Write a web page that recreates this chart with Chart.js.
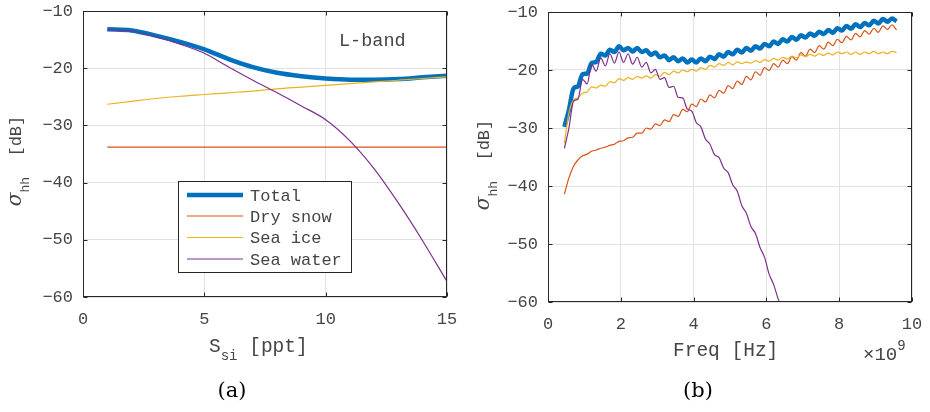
<!DOCTYPE html>
<html>
<head>
<meta charset="utf-8">
<script src="https://cdn.jsdelivr.net/npm/chart.js@4.4.0/dist/chart.umd.min.js"></script>
<style>
  body { margin: 0; background: #fff; }
  #wrap { position: relative; width: 930px; height: 412px; overflow: hidden; }
  #wrap canvas { position: absolute; top: 0; }
  .cap { position: absolute; top: 380px; width: 60px; text-align: center;
         font-family: "DejaVu Serif", serif; font-size: 21px; line-height: 21px; color: #000; }
</style>
</head>
<body>
<div id="wrap">
  <canvas id="grafA" width="465" height="412" style="left:0"></canvas>
  <canvas id="grafB" width="465" height="412" style="left:465px"></canvas>
  <div class="cap" style="left:202px">(a)</div>
  <div class="cap" style="left:668px">(b)</div>
</div>
<script>
// (a) salinidad del hielo marino, banda L
const salinity = [1, 2, 3, 4, 5, 6, 7, 8, 9, 10, 11, 12, 13, 14, 15];
const salTotal = [-13.2, -13.4, -14.3, -15.4, -16.7, -18.4, -19.8, -20.8, -21.4, -21.8, -22.0, -22.0, -21.9, -21.6, -21.3];
const salDrySnow = [-33.8, -33.8, -33.8, -33.8, -33.8, -33.8, -33.8, -33.8, -33.8, -33.8, -33.8, -33.8, -33.8, -33.8, -33.8];
const salSeaIce = [-26.3, -25.8, -25.3, -24.9, -24.6, -24.3, -24.0, -23.6, -23.3, -23.0, -22.7, -22.4, -22.1, -21.8, -21.5];
const salSeaWater = [-13.3, -13.5, -14.5, -15.8, -17.4, -19.8, -22.1, -24.3, -26.6, -29.0, -32.7, -37.6, -43.6, -50.2, -57.3];

// (b) frecuencia en unidades de 1e9 Hz
const freqGHz = [0.45, 0.575, 0.7, 0.825, 0.95, 1.075, 1.2, 1.325, 1.45, 1.575,
  1.7, 1.825, 1.95, 2.075, 2.2, 2.325, 2.45, 2.575, 2.7, 2.825,
  2.95, 3.075, 3.2, 3.325, 3.45, 3.575, 3.7, 3.825, 3.95, 4.075,
  4.2, 4.325, 4.45, 4.575, 4.7, 4.825, 4.95, 5.075, 5.2, 5.325,
  5.45, 5.575, 5.7, 5.825, 5.95, 6.075, 6.2, 6.325, 6.45, 6.575,
  6.7, 6.825, 6.95, 7.075, 7.2, 7.325, 7.45, 7.575, 7.7, 7.825,
  7.95, 8.075, 8.2, 8.325, 8.45, 8.575, 8.7, 8.825, 8.95, 9.075,
  9.2, 9.325, 9.45, 9.575];
const fTotal = [-29.8, -26.9, -23.2, -22.8, -20.7, -20.6, -18.8, -18.6, -17.2, -17.5,
  -16.5, -16.9, -15.9, -16.6, -16.2, -16.8, -16.2, -16.9, -16.6, -17.4,
  -17.0, -17.8, -17.5, -18.3, -17.8, -18.5, -18.0, -18.7, -18.2, -18.7,
  -18.0, -18.5, -17.7, -18.1, -17.3, -17.7, -16.9, -17.3, -16.5, -17.0,
  -16.2, -16.7, -15.9, -16.3, -15.5, -15.9, -15.1, -15.5, -14.7, -15.1,
  -14.3, -14.8, -14.0, -14.4, -13.7, -14.1, -13.4, -13.8, -13.1, -13.6,
  -12.8, -13.2, -12.4, -12.9, -12.1, -12.6, -11.9, -12.3, -11.5, -12.0,
  -11.2, -11.7, -11.1, -11.6];
const fDrySnow = [-41.4, -38.6, -36.6, -35.5, -34.8, -34.5, -34.0, -33.8, -33.5, -33.3,
  -33.0, -32.8, -32.3, -32.2, -31.7, -31.6, -30.9, -30.9, -30.0, -30.2,
  -29.3, -29.6, -28.6, -28.9, -27.7, -28.0, -26.8, -27.2, -25.9, -26.3,
  -25.0, -25.5, -24.3, -24.8, -23.5, -24.0, -22.7, -23.2, -21.9, -22.5,
  -21.1, -21.7, -20.3, -20.9, -19.6, -20.1, -18.9, -19.5, -18.3, -18.9,
  -17.7, -18.3, -17.0, -17.6, -16.4, -17.0, -15.8, -16.4, -15.2, -15.8,
  -14.7, -15.3, -14.2, -14.8, -13.7, -14.3, -13.2, -13.8, -12.8, -13.5,
  -12.4, -13.0, -12.2, -13.1];
const fSeaIce = [-32.6, -27.4, -25.2, -24.8, -24.0, -23.8, -22.9, -23.1, -22.6, -22.8,
  -22.0, -22.2, -21.5, -21.8, -21.3, -21.6, -21.1, -21.4, -21.0, -21.4,
  -20.8, -21.1, -20.4, -20.8, -20.2, -20.5, -20.0, -20.3, -19.9, -20.2,
  -19.6, -19.9, -19.2, -19.5, -18.9, -19.2, -18.7, -19.1, -18.6, -18.9,
  -18.6, -18.8, -18.4, -18.7, -18.2, -18.5, -18.0, -18.3, -17.8, -18.1,
  -17.6, -17.9, -17.4, -17.7, -17.3, -17.6, -17.2, -17.5, -17.1, -17.4,
  -16.9, -17.2, -16.9, -17.3, -16.9, -17.3, -16.9, -17.2, -16.8, -17.2,
  -16.9, -17.2, -16.8, -17.0];
const fSeaWater = [-33.5, -30.0, -25.4, -25.0, -21.6, -22.4, -19.0, -20.2, -17.9, -19.3,
  -17.2, -18.8, -16.9, -18.7, -17.2, -19.0, -17.8, -19.5, -18.7, -20.5,
  -19.9, -21.6, -21.3, -23.0, -22.8, -24.7, -24.8, -26.7, -27.1, -29.1,
  -29.8, -31.9, -32.8, -34.6, -35.1, -36.9, -37.7, -39.8, -40.9, -43.4,
  -44.7, -47.0, -48.2, -50.6, -52.3, -55.2, -57.0, -59.5, -61.3, -63.8];

const seriesNames = ['Total', 'Dry snow', 'Sea ice', 'Sea water'];
const seriesColors = ['#0072BD', '#D95319', '#EDB120', '#7E2F8E'];
const seriesWidths = [4.5, 1.2, 1.2, 1.2];

const MONO = '"Liberation Mono", "DejaVu Sans Mono", monospace';
const TXT = '#454545';
const AXIS = '#262626';

function toPts(xs, ys) {
    return ys.map((v, i) => ({ x: xs[i], y: v }));
}

function hacerDatasets(xs, listas) {
    return listas.map((ys, k) => ({
        label: seriesNames[k],
        data: toPts(xs, ys),
        borderColor: seriesColors[k],
        borderWidth: seriesWidths[k],
        pointRadius: 0,
        cubicInterpolationMode: 'monotone',
        order: 4 - k
    }));
}

// dibuja trozos de texto seguidos (para subíndices / superíndices)
function drawParts(ctx, parts, x, y) {
    let cx = x;
    parts.forEach(([t, font, dy]) => {
        ctx.font = font;
        ctx.fillText(t, cx, y + (dy || 0));
        cx += ctx.measureText(t).width;
    });
    return cx;
}
function partsWidth(ctx, parts) {
    let w = 0;
    parts.forEach(([t, font]) => { ctx.font = font; w += ctx.measureText(t).width; });
    return w;
}

const yTitleParts = [
    ['\u03C3', 'italic 20px "DejaVu Serif", serif', 0],
    ['hh', '13px ' + MONO, 8],
    ['  [dB]', '17px ' + MONO, 0]
];

// caja, marcas hacia dentro, títulos de ejes y extras
function decor(cfg) {
    return {
        id: 'decor',
        afterDraw(chart) {
            const { ctx, chartArea: a, scales } = chart;
            const L = Math.round(a.left) + 0.5, R = Math.round(a.right) - 0.5;
            const T = Math.round(a.top) + 0.5, B = Math.round(a.bottom) - 0.5;
            ctx.save();
            ctx.strokeStyle = AXIS;
            ctx.lineWidth = 1;
            ctx.strokeRect(L, T, R - L, B - T);
            ctx.beginPath();
            scales.x.ticks.forEach(t => {
                const px = Math.round(scales.x.getPixelForValue(t.value)) + 0.5;
                ctx.moveTo(px, B); ctx.lineTo(px, B - 4);
                ctx.moveTo(px, T); ctx.lineTo(px, T + 4);
            });
            scales.y.ticks.forEach(t => {
                const py = Math.round(scales.y.getPixelForValue(t.value)) + 0.5;
                ctx.moveTo(L, py); ctx.lineTo(L + 4, py);
                ctx.moveTo(R, py); ctx.lineTo(R - 4, py);
            });
            ctx.stroke();

            ctx.fillStyle = TXT;
            ctx.textBaseline = 'alphabetic';
            ctx.textAlign = 'left';
            // título eje y (rotado)
            ctx.save();
            ctx.translate(cfg.yTitleX, cfg.yTitleY);
            ctx.rotate(-Math.PI / 2);
            drawParts(ctx, yTitleParts, -partsWidth(ctx, yTitleParts) / 2, 0);
            ctx.restore();
            // título eje x
            drawParts(ctx, cfg.xTitle, cfg.xTitleX, cfg.xTitleY);
            if (cfg.extra) cfg.extra(ctx, chart);
            ctx.restore();
        }
    };
}

function leyendaA(ctx) {
    ctx.fillStyle = '#ffffff';
    ctx.fillRect(178.5, 181.5, 173, 91);
    ctx.strokeStyle = AXIS;
    ctx.lineWidth = 1;
    ctx.strokeRect(178.5, 181.5, 173, 91);
    const lineY = [195, 216, 237.5, 259];
    const textY = [200.5, 221.5, 243, 264.5];
    seriesNames.forEach((n, k) => {
        ctx.beginPath();
        ctx.strokeStyle = seriesColors[k];
        ctx.lineWidth = seriesWidths[k];
        ctx.moveTo(187, lineY[k]);
        ctx.lineTo(243, lineY[k]);
        ctx.stroke();
        ctx.fillStyle = TXT;
        ctx.font = '17px ' + MONO;
        ctx.fillText(n, 250, textY[k]);
    });
    ctx.font = '18.5px ' + MONO;
    ctx.fillText('L-band', 339, 46);
}

function exponenteB(ctx) {
    drawParts(ctx, [['\u00D710', '19px ' + MONO, 0], ['9', '14px ' + MONO, -10]], 398, 360);
}

function opciones(cfg) {
    const tickFont = { family: MONO, size: 17 };
    const fmt = v => (v < 0 ? '\u2212' + Math.abs(v) : String(v));
    return {
        responsive: false,
        animation: false,
        layout: { padding: { left: 0, right: 18, top: cfg.top, bottom: 0 } },
        plugins: { legend: { display: false }, tooltip: { enabled: false } },
        scales: {
            x: {
                type: 'linear', min: 0, max: cfg.xMax,
                ticks: { stepSize: cfg.xStep, padding: 12, color: TXT, font: tickFont, callback: fmt, maxRotation: 0 },
                grid: { color: '#e2e2e2', drawTicks: false },
                border: { display: false },
                afterFit(s) { s.height = cfg.xHeight; s.paddingLeft = 0; s.paddingRight = 0; }
            },
            y: {
                type: 'linear', min: -60, max: -10,
                ticks: { stepSize: 10, padding: 10, color: TXT, font: tickFont, callback: fmt },
                grid: { color: '#e2e2e2', drawTicks: false },
                border: { display: false },
                afterFit(s) { s.width = 83; s.paddingTop = 0; s.paddingBottom = 0; }
            }
        }
    };
}

new Chart(document.getElementById('grafA').getContext('2d'), {
    type: 'line',
    data: { datasets: hacerDatasets(salinity, [salTotal, salDrySnow, salSeaIce, salSeaWater]) },
    options: opciones({ top: 11, xMax: 15, xStep: 5, xHeight: 115 }),
    plugins: [decor({
        yTitleX: 20.5, yTitleY: 161,
        xTitle: [['S', '19.5px ' + MONO, 0], ['si', '14px ' + MONO, 8], [' [ppt]', '19.5px ' + MONO, 0]],
        xTitleX: 209, xTitleY: 352,
        extra: leyendaA
    })]
});

new Chart(document.getElementById('grafB').getContext('2d'), {
    type: 'line',
    data: { datasets: hacerDatasets(freqGHz, [fTotal, fDrySnow, fSeaIce, fSeaWater]) },
    options: opciones({ top: 12, xMax: 10, xStep: 2, xHeight: 110 }),
    plugins: [decor({
        yTitleX: 23.5, yTitleY: 165,
        xTitle: [['Freq [Hz]', '19.5px ' + MONO, 0]],
        xTitleX: 208, xTitleY: 356,
        extra: exponenteB
    })]
});
</script>
</body>
</html>
